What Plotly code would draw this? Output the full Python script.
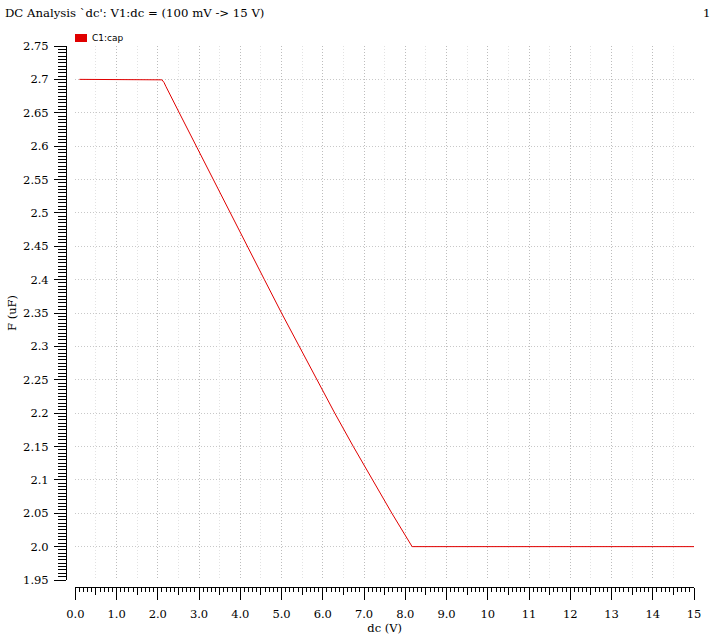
import plotly.graph_objects as go

# ---- data ----
dc_volts = [0.1, 2.05, 2.1, 2.15, 2.2, 2.52, 2.93, 3.34, 3.755, 4.17, 4.585,
            5.0, 5.425, 5.855, 6.29, 6.74, 7.2, 7.675, 8.166, 9.0, 10.0, 11.0,
            12.0, 13.0, 14.0, 15.0]
cap_uF = [2.7, 2.7, 2.6993, 2.6955, 2.689, 2.65, 2.6, 2.55, 2.5, 2.45, 2.4,
          2.35, 2.3, 2.25, 2.2, 2.15, 2.1, 2.05, 2.0, 2.0, 2.0, 2.0,
          2.0, 2.0, 2.0, 2.0]
series_name = "C1:cap"

x_tickvals = list(range(0, 16))
x_ticktext = ["0.0", "1.0", "2.0", "3.0", "4.0", "5.0", "6.0", "7.0", "8.0", "9.0",
              "10", "11", "12", "13", "14", "15"]
x_halfvals = [i + 0.5 for i in range(15)]
y_tickvals = [1.95, 2.0, 2.05, 2.1, 2.15, 2.2, 2.25, 2.3, 2.35, 2.4, 2.45, 2.5,
              2.55, 2.6, 2.65, 2.7, 2.75]
y_ticktext = ["1.95", "2.0", "2.05", "2.1", "2.15", "2.2", "2.25", "2.3", "2.35",
              "2.4", "2.45", "2.5", "2.55", "2.6", "2.65", "2.7", "2.75"]

title_text = "DC Analysis `dc': V1:dc = (100 mV -> 15 V)"
page_text = "1"
x_title = "dc (V)"
y_title = "F (uF)"

# ---- layout geometry (pixels) ----
W, H = 718, 640
ML, MR, MT, MB = 66, 24, 46, 53
PW, PH = W - ML - MR, H - MT - MB
x_dom0 = 9.3 / PW
y_dom0 = 7.0 / PH

def px_x(p):
    return (p - ML) / PW

def px_y(p):
    return 1 - (p - MT) / PH

serif = "DejaVu Serif"
FS = 11.5
RED = "#e00000"

fig = go.Figure()
fig.add_trace(go.Scatter(x=dc_volts, y=cap_uF, mode="lines", name=series_name,
                         line=dict(color=RED, width=1), showlegend=False))
# same data on the overlay axis (invisible) so the half-volt axis is drawn
fig.add_trace(go.Scatter(x=dc_volts, y=cap_uF, mode="lines", xaxis="x2",
                         line=dict(color=RED, width=1), opacity=0,
                         showlegend=False, hoverinfo="skip"))

grid_dash = "1px,2px"
fig.update_layout(
    width=W, height=H,
    margin=dict(l=ML, r=MR, t=MT, b=MB, pad=0, autoexpand=False),
    paper_bgcolor="white", plot_bgcolor="white",
    font=dict(family=serif, size=FS, color="black"),
    xaxis=dict(
        domain=[x_dom0, 1], range=[0, 15], anchor="free", position=0,
        automargin=False,
        tickmode="array", tickvals=x_tickvals, ticktext=x_ticktext,
        ticks="outside", ticklen=12, tickwidth=1, tickcolor="black",
        ticklabelstandoff=4,
        showline=True, linecolor="black", linewidth=1,
        showgrid=True, gridcolor="#bdbdbd", griddash=grid_dash, gridwidth=1,
        zeroline=False,
        minor=dict(dtick=0.1, tick0=0, ticks="outside", ticklen=4,
                   tickcolor="black", tickwidth=1, showgrid=False),
        tickfont=dict(family=serif, size=FS),
        title=dict(text=x_title, standoff=4, font=dict(family=serif, size=FS)),
    ),
    xaxis2=dict(
        domain=[x_dom0, 1], range=[0, 15], anchor="free", position=0,
        automargin=False,
        overlaying="x", tickmode="array", tickvals=x_halfvals,
        ticks="outside", ticklen=7, tickwidth=1, tickcolor="black",
        showticklabels=False, showline=False,
        showgrid=True, gridcolor="#e2e2e2", griddash=grid_dash, gridwidth=1,
        zeroline=False,
    ),
    yaxis=dict(
        domain=[y_dom0, 1], range=[1.95, 2.75], anchor="free", position=0,
        automargin=False,
        tickmode="array", tickvals=y_tickvals, ticktext=y_ticktext,
        ticks="outside", ticklen=12, tickwidth=1, tickcolor="black",
        ticklabelstandoff=3,
        showline=True, linecolor="black", linewidth=1,
        showgrid=True, gridcolor="#c8c8c8", griddash=grid_dash, gridwidth=1,
        zeroline=False,
        minor=dict(dtick=0.005, tick0=1.95, ticks="outside", ticklen=8,
                   tickcolor="black", tickwidth=1, showgrid=False),
        tickfont=dict(family=serif, size=FS),
        title=dict(text=y_title, standoff=3, font=dict(family=serif, size=FS)),
    ),
    showlegend=False,
)

# legend swatch + label
fig.add_shape(type="rect", xref="paper", yref="paper",
              x0=px_x(75), x1=px_x(87), y0=px_y(42), y1=px_y(34),
              fillcolor=RED, line=dict(width=0))
fig.add_annotation(text=series_name, xref="paper", yref="paper",
                   x=px_x(89.5), y=px_y(38), xanchor="left", yanchor="middle",
                   showarrow=False, font=dict(family="DejaVu Sans", size=9, color="black"))

# title and page number
fig.add_annotation(text=title_text, xref="paper", yref="paper",
                   x=px_x(3), y=px_y(13), xanchor="left", yanchor="middle",
                   showarrow=False, font=dict(family=serif, size=11.7, color="black"))
fig.add_annotation(text=page_text, xref="paper", yref="paper",
                   x=px_x(712), y=px_y(13), xanchor="right", yanchor="middle",
                   showarrow=False, font=dict(family=serif, size=11.7, color="black"))

# the page's default 8px body margin would shift the figure; remove it
fig.write_html("out.html", config={"displayModeBar": False},
               post_script="document.body.style.margin='0px';")
